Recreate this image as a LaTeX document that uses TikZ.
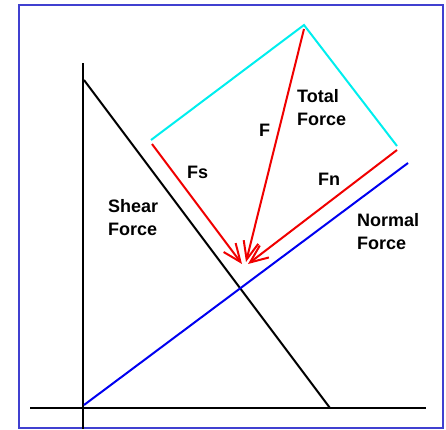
\documentclass[tikz,border=0pt]{standalone}
\usepackage{fontspec}
\setmainfont{Liberation Sans}
\usetikzlibrary{arrows.meta}
\definecolor{frameblue}{RGB}{64,64,208}
\definecolor{lineblue}{RGB}{0,0,240}
\definecolor{cyanline}{RGB}{0,238,238}
\definecolor{redline}{RGB}{240,0,0}
\begin{document}
\begin{tikzpicture}[x=1pt,y=-1pt,
  blackline/.style={line width=2pt,black},
  blueline/.style={line width=2pt,lineblue},
  cyanseg/.style={line width=2pt,cyanline},
  forcearrow/.style={line width=2pt,redline,-{Straight Barb[length=18pt,width=15pt]}},
  lbl/.style={font=\bfseries\fontsize{18}{22.5}\selectfont,inner sep=0pt,anchor=base west,align=left}]
\useasboundingbox (0,0) rectangle (446,429);
\draw[frameblue,line width=2pt] (19,5) rectangle (443,428);
% coordinates
\coordinate (vtop) at (83,63);
\coordinate (vbot) at (83,429);
\coordinate (hl) at (30,408);
\coordinate (hr) at (426,408);
\coordinate (bk1) at (84,80);
\coordinate (bk2) at (330,408);
\coordinate (bu1) at (84,405);
\coordinate (bu2) at (408,163);
\coordinate (cA) at (151,140);
\coordinate (cB) at (304,25);
\coordinate (cC) at (397,146);
\coordinate (sS) at (152,144);
\coordinate (sF) at (304,29);
\coordinate (sN) at (397,150);
\coordinate (tS) at (242,264);
\coordinate (tF) at (246,262);
\coordinate (tN) at (248,264);
% lines
\draw[blackline] (vtop) -- (vbot);
\draw[blackline] (hl) -- (hr);
\draw[blackline] (bk1) -- (bk2);
\draw[blueline] (bu1) -- (bu2);
\draw[cyanseg] (cA) -- (cB) -- (cC);
\draw[forcearrow] (sS) -- (tS);
\draw[forcearrow] (sF) -- (tF);
\draw[forcearrow] (sN) -- (tN);
% labels
\node[lbl] (total) at (297,125) {Total\\Force};
\node[lbl] (fF) at (259,136) {F};
\node[lbl] (fs) at (187,178) {Fs};
\node[lbl] (fn) at (318,185) {Fn};
\node[lbl] (shear) at (108,235) {Shear\\Force};
\node[lbl] (normal) at (357,249) {Normal\\Force};
\end{tikzpicture}
\end{document}
